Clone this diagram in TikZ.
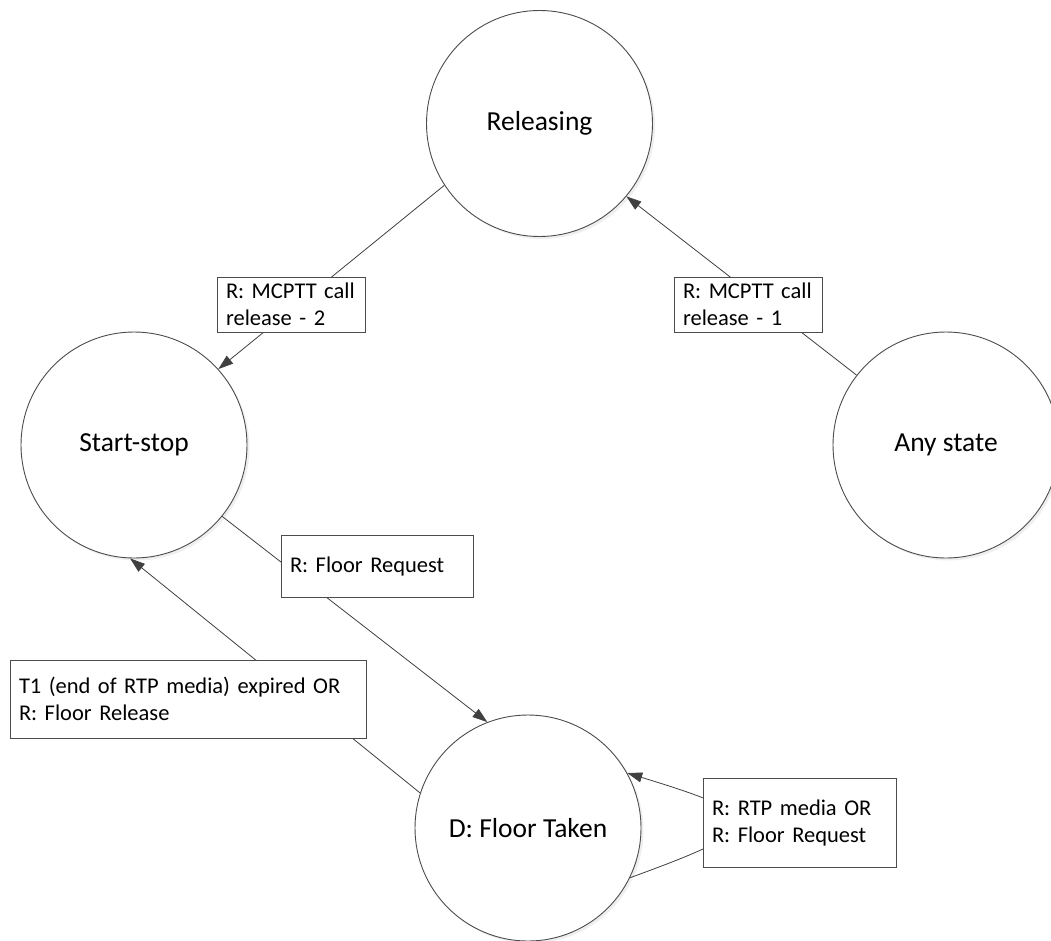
\documentclass[tikz,border=0pt]{standalone}
\usepackage{fontspec}
\setmainfont{Carlito}
\usetikzlibrary{arrows.meta,shadows}
\tikzset{
  state/.style={circle, draw=black!70, line width=0.9pt, fill=white, minimum size=226pt, inner sep=0pt,
    font=\fontsize{27.5}{32}\selectfont, drop shadow={shadow xshift=2.5pt, shadow yshift=-2.5pt, fill=black!12}},
  lbl/.style={rectangle, draw=black!70, line width=0.9pt, fill=white, inner xsep=9pt, inner ysep=0pt,
    align=left, font=\fontsize{22.5}{27}\selectfont},
  conn/.style={draw=black!75, line width=0.8pt},
  arr/.style={conn, -{Triangle[length=15pt,width=10pt]}}
}
\begin{document}
\begin{tikzpicture}[x=1pt,y=-1pt]
\useasboundingbox (0,0) rectangle (1051,940);
\clip (0,0) rectangle (1051,940);
\fill[white] (0,0) rectangle (1051,940);

\node[state] (rel) at (539.5,123.5) {Releasing};
\node[state] (ss) at (134,445) {Start-stop};
\node[state] (any) at (946,445) {Any state};
\node[state] (ft) at (528,828) {D: Floor Taken};

\draw[arr] (rel.213) -- (ss.42);
\draw[arr] (any.142) -- (rel.-40);
\draw[arr] (ss.-39) -- (ft.111);
\draw[arr] (ft.162) -- (ss.268);
\draw[arr] (ft.-26) .. controls +(-20:150) and +(17:150) .. (ft.29);

\node[lbl, minimum width=148pt, minimum height=55pt, text width=130pt] (l2) at (291,304.5) {R: MCPTT call\\release - 2};
\node[lbl, minimum width=148pt, minimum height=55pt, text width=130pt] (l1) at (748,304.5) {R: MCPTT call\\release - 1};
\node[lbl, minimum width=192pt, minimum height=62pt, text width=174pt] (lfr) at (377,566) {R: Floor Request};
\node[lbl, minimum width=356pt, minimum height=78pt, text width=338pt] (lt1) at (188,699) {T1 (end of RTP media) expired OR\\R: Floor Release};
\node[lbl, minimum width=193pt, minimum height=89pt, text width=175pt] (lrtp) at (799.5,822.5) {R: RTP media OR\\R: Floor Request};
\end{tikzpicture}
\end{document}
